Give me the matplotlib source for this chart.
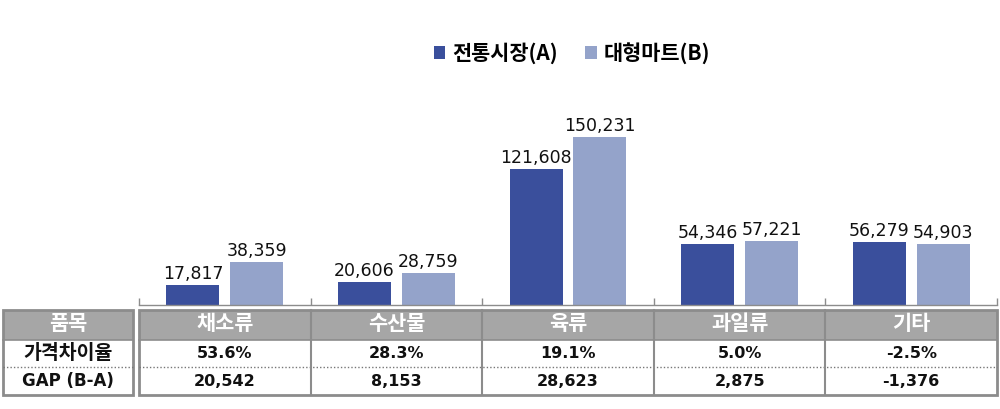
import matplotlib
matplotlib.use("Agg")
import matplotlib.pyplot as plt
from matplotlib.patches import Rectangle
import numpy as np

plt.rcParams['font.family'] = ['DejaVu Sans', 'Noto Sans CJK KR']
KR = ['Noto Sans CJK KR', 'DejaVu Sans']
NUM = ['DejaVu Sans', 'Noto Sans CJK KR']

categories = ['채소류', '수산물', '육류', '과일류', '기타']
series_names = ['전통시장(A)', '대형마트(B)']
traditional = [17817, 20606, 121608, 54346, 56279]
mart = [38359, 28759, 150231, 57221, 54903]
rate_labels = ['53.6%', '28.3%', '19.1%', '5.0%', '-2.5%']
gap_labels = ['20,542', '8,153', '28,623', '2,875', '-1,376']
row_headers = ['품목', '가격차이율', 'GAP (B-A)']

c_dark = '#3A4F9C'
c_light = '#94A3CA'
c_head = '#A6A6A6'
c_border = '#8C8C8C'

W, H = 1000, 409
fig = plt.figure(figsize=(10, 4.09), dpi=100)

# main bar axes (pixel layout)
ax_l, ax_r, ax_b, ax_t = 139, 997, 305, 100
ax = fig.add_axes([ax_l / W, (H - ax_b) / H, (ax_r - ax_l) / W, (ax_b - ax_t) / H])
n = len(categories)
x = np.arange(n) + 0.5
bw = 0.308
off = 0.186
b1 = ax.bar(x - off, traditional, bw, color=c_dark, label=series_names[0])
b2 = ax.bar(x + off, mart, bw, color=c_light, label=series_names[1])
ymax = (ax_b - ax_t) / 1.118 * 1000
ax.set_ylim(0, ymax)
ax.set_xlim(0, n)
for bars, vals in ((b1, traditional), (b2, mart)):
    for rect, v in zip(bars, vals):
        ax.annotate(f'{v:,}', (rect.get_x() + rect.get_width() / 2, v),
                    xytext=(0, 1.5), textcoords='offset points',
                    ha='center', va='bottom', fontsize=12.5, color='#111111',
                    family=NUM)
for s in ('top', 'right', 'left'):
    ax.spines[s].set_visible(False)
ax.spines['bottom'].set_color(c_border)
ax.spines['bottom'].set_linewidth(1.0)
ax.set_yticks([])
ax.set_xticks(np.arange(n + 1))
ax.set_xticklabels([])
ax.tick_params(axis='x', direction='in', length=5, color=c_border, width=1.0)

leg = fig.legend(handles=[b1, b2], labels=series_names, loc='center',
                 bbox_to_anchor=(572 / W, (H - 53) / H), ncol=2, frameon=False,
                 prop={'size': 15, 'weight': 'bold', 'family': KR},
                 handlelength=0.55, handleheight=0.55, handletextpad=0.35,
                 columnspacing=1.3)

# table axes in pixel coordinates
tx = fig.add_axes([0, 0, 1, 1])
tx.set_xlim(0, W)
tx.set_ylim(H, 0)
tx.axis('off')

y0, y1, y2, y3 = 310, 340, 367, 395
ys = [(y0 + y1) / 2 - 1, (y1 + y2) / 2, (y2 + y3) / 2]
# label column
lx0, lx1 = 3, 133
tx.add_patch(Rectangle((lx0, y0), lx1 - lx0, y1 - y0, facecolor=c_head, edgecolor='none'))
tx.add_patch(Rectangle((lx0, y0), lx1 - lx0, y3 - y0, facecolor='none', edgecolor=c_border, lw=2))
tx.plot([lx0, lx1], [y1, y1], color=c_border, lw=1.2)
tx.plot([lx0, lx1], [y2, y2], color='#777777', lw=1, ls=(0, (1, 1.5)))
tx.text((lx0 + lx1) / 2, ys[0], row_headers[0], ha='center', va='center',
        fontsize=15, weight='bold', color='white', family=KR)
tx.text((lx0 + lx1) / 2, ys[1], row_headers[1], ha='center', va='center',
        fontsize=14, weight='bold', color='#111111', family=KR)
tx.text((lx0 + lx1) / 2, ys[2], row_headers[2], ha='center', va='center',
        fontsize=12, weight='bold', color='#111111', family=NUM)

# data columns
dx0, dx1 = ax_l, ax_r
cw = (dx1 - dx0) / n
tx.add_patch(Rectangle((dx0, y0), dx1 - dx0, y1 - y0, facecolor=c_head, edgecolor='none'))
tx.add_patch(Rectangle((dx0, y0), dx1 - dx0, y3 - y0, facecolor='none', edgecolor=c_border, lw=2))
tx.plot([dx0, dx1], [y1, y1], color=c_border, lw=1.2)
tx.plot([dx0, dx1], [y2, y2], color='#777777', lw=1, ls=(0, (1, 1.5)))
for i in range(1, n):
    xx = dx0 + i * cw
    tx.plot([xx, xx], [y0, y3], color=c_border, lw=1.5)
for i in range(n):
    cx = dx0 + (i + 0.5) * cw
    tx.text(cx, ys[0], categories[i], ha='center', va='center',
            fontsize=15, weight='bold', color='white', family=KR)
    tx.text(cx, ys[1], rate_labels[i], ha='center', va='center',
            fontsize=11.5, weight='bold', color='#111111', family=NUM)
    tx.text(cx, ys[2], gap_labels[i], ha='center', va='center',
            fontsize=11.5, weight='bold', color='#111111', family=NUM)

fig.savefig('out.png', dpi=100)
